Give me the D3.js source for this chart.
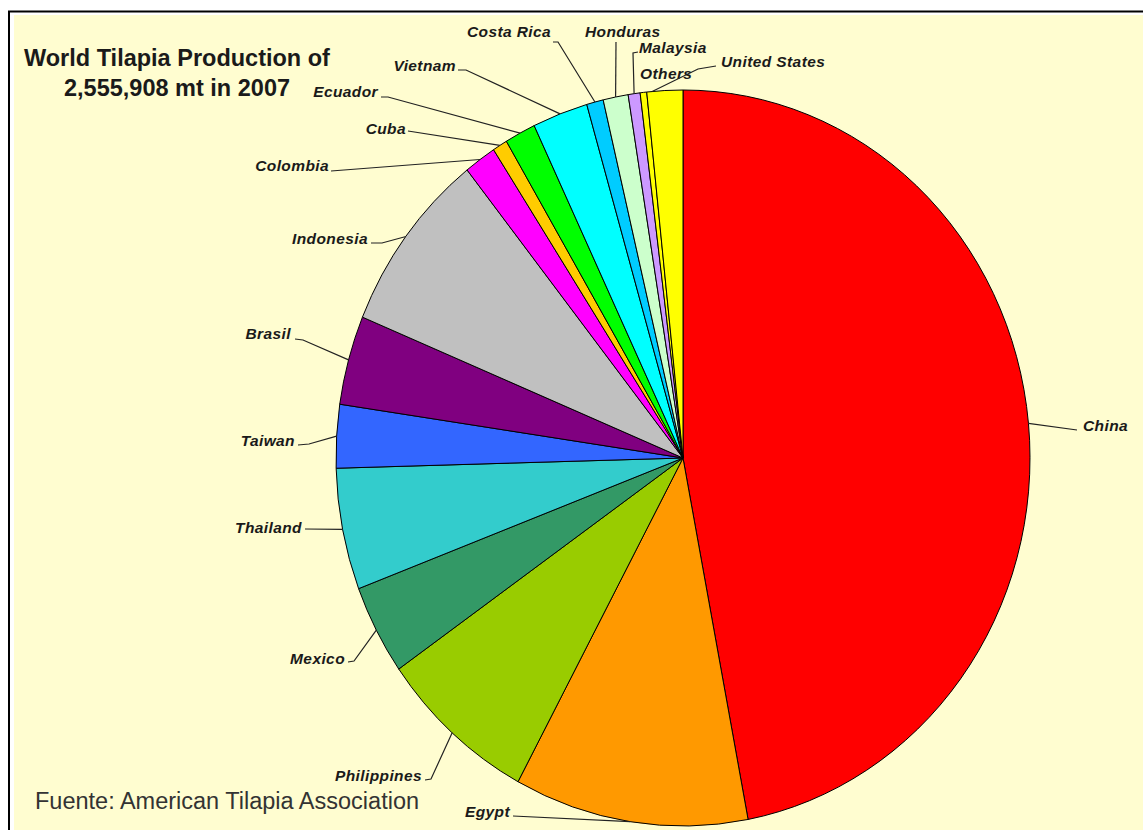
<!DOCTYPE html>
<html>
<head>
<meta charset="utf-8">
<script src="https://cdn.jsdelivr.net/npm/d3@7"></script>
<style>
  body { margin: 0; background: #fff; }
  svg { display: block; }
  .lbl { font-family: "Liberation Sans", Arial, sans-serif; font-weight: bold; font-style: italic; font-size: 15.5px; letter-spacing: 0.4px; fill: #1a1a1a; }
</style>
</head>
<body>
<script>
// countries clockwise from 12 o'clock, metric tons
const countries = ["China", "Egypt", "Philippines", "Mexico", "Thailand", "Taiwan", "Brasil", "Indonesia",
    "Colombia", "Cuba", "Ecuador", "Vietnam", "Costa Rica", "Honduras", "Malaysia", "Others", "United States"];
const production = [1201000, 278300, 188900, 100800, 136300, 71000, 100100, 205900,
    38300, 17700, 36900, 66000, 19900, 29800, 14200, 7800, 42600];
const colors = ["#ff0000", "#ff9900", "#99cc00", "#339966", "#33cccc", "#3366ff", "#800080", "#c0c0c0",
    "#ff00ff", "#ffcc00", "#00ff00", "#00ffff", "#00ccff", "#ccffcc", "#cc99ff", "#ffff00", "#ffff00"];

const titleLines = ["World Tilapia Production of", "2,555,908 mt in 2007"];
const sourceText = "Fuente: American Tilapia Association";

// label placement: text anchor point + elbow points, leader ends on the slice edge
const labelLayout = {
    "China":         { x: 1083, y: 431, anchor: "start", pts: [[1077, 430]] },
    "Egypt":         { x: 510, y: 817, anchor: "end", pts: [[513, 816]] },
    "Philippines":   { x: 422, y: 781, anchor: "end", pts: [[425, 780], [431, 779]] },
    "Mexico":        { x: 345, y: 664, anchor: "end", pts: [[348, 662], [354, 661]] },
    "Thailand":      { x: 302, y: 533, anchor: "end", pts: [[305, 529]] },
    "Taiwan":        { x: 295, y: 446, anchor: "end", pts: [[298, 445], [309, 444]] },
    "Brasil":        { x: 291, y: 339, anchor: "end", pts: [[295, 339], [303, 340]] },
    "Indonesia":     { x: 368, y: 244, anchor: "end", pts: [[371, 243], [382, 243]] },
    "Colombia":      { x: 329, y: 171, anchor: "end", pts: [[331, 171]] },
    "Cuba":          { x: 406, y: 134, anchor: "end", pts: [[408, 131]] },
    "Ecuador":       { x: 378, y: 97, anchor: "end", pts: [[381, 97], [388, 97]] },
    "Vietnam":       { x: 456, y: 71, anchor: "end", pts: [[458, 70], [466, 70]] },
    "Costa Rica":    { x: 467, y: 37, anchor: "start", pts: [[553, 42], [558, 42]] },
    "Honduras":      { x: 585, y: 37, anchor: "start", pts: [[616, 42]] },
    "Malaysia":      { x: 639, y: 53, anchor: "start", pts: [[638, 52], [633, 53]] },
    "Others":        { x: 640, y: 79, anchor: "start", pts: null },
    "United States": { x: 721, y: 67, anchor: "start", pts: [[716, 66], [698, 69]], at: 0.15 }
};

const width = 1143, height = 830;
const cx = 683, cy = 458, rx = 347, ry = 368;

const svg = d3.select("body").append("svg")
    .attr("width", width)
    .attr("height", height);

// frame
svg.append("rect").attr("x", 0).attr("y", 0).attr("width", width).attr("height", height).attr("fill", "#fff");
svg.append("rect").attr("x", 14).attr("y", 15).attr("width", width - 14).attr("height", height - 15).attr("fill", "#fffdd0");
svg.append("path").attr("d", `M9,${height} V11.5 H${width}`).attr("fill", "none").attr("stroke", "#000").attr("stroke-width", 2);

const data = countries.map((c, i) => ({ name: c, value: production[i], color: colors[i] }));

const pie = d3.pie().sort(null).value(d => d.value);
const arcs = pie(data);
const arc = d3.arc().innerRadius(0).outerRadius(ry);

// the original pie is slightly squashed horizontally
const g = svg.append("g").attr("transform", `translate(${cx},${cy}) scale(${rx / ry},1)`);
g.selectAll("path")
    .data(arcs)
    .enter().append("path")
    .attr("d", arc)
    .attr("fill", d => d.data.color)
    .attr("stroke", "#000")
    .attr("stroke-width", 1)
    .attr("vector-effect", "non-scaling-stroke");

// point on the ellipse edge at a given pie angle
function edgePoint(a) {
    return [cx + rx * Math.sin(a), cy - ry * Math.cos(a)];
}

const line = d3.line();
const labels = svg.append("g");
arcs.forEach(d => {
    const L = labelLayout[d.data.name];
    if (L.pts) {
        const f = L.at === undefined ? 0.5 : L.at;
        const a = d.startAngle + (d.endAngle - d.startAngle) * f;
        labels.append("path")
            .attr("d", line(L.pts.concat([edgePoint(a)])))
            .attr("fill", "none")
            .attr("stroke", "#222")
            .attr("stroke-width", 1.2);
    }
    labels.append("text")
        .attr("class", "lbl")
        .attr("x", L.x)
        .attr("y", L.y)
        .attr("text-anchor", L.anchor)
        .text(d.data.name);
});

// title
svg.append("text")
    .attr("x", 24).attr("y", 66)
    .attr("font-family", "Liberation Sans, Arial, sans-serif")
    .attr("font-weight", "bold")
    .attr("font-size", 23.5)
    .attr("fill", "#1a1a1a")
    .text(titleLines[0]);
svg.append("text")
    .attr("x", 64).attr("y", 96)
    .attr("font-family", "Liberation Sans, Arial, sans-serif")
    .attr("font-weight", "bold")
    .attr("font-size", 23.5)
    .attr("fill", "#1a1a1a")
    .text(titleLines[1]);

svg.append("text")
    .attr("x", 35).attr("y", 809)
    .attr("font-family", "Liberation Sans, Arial, sans-serif")
    .attr("font-size", 23.5)
    .attr("fill", "#333")
    .text(sourceText);
</script>
</body>
</html>
